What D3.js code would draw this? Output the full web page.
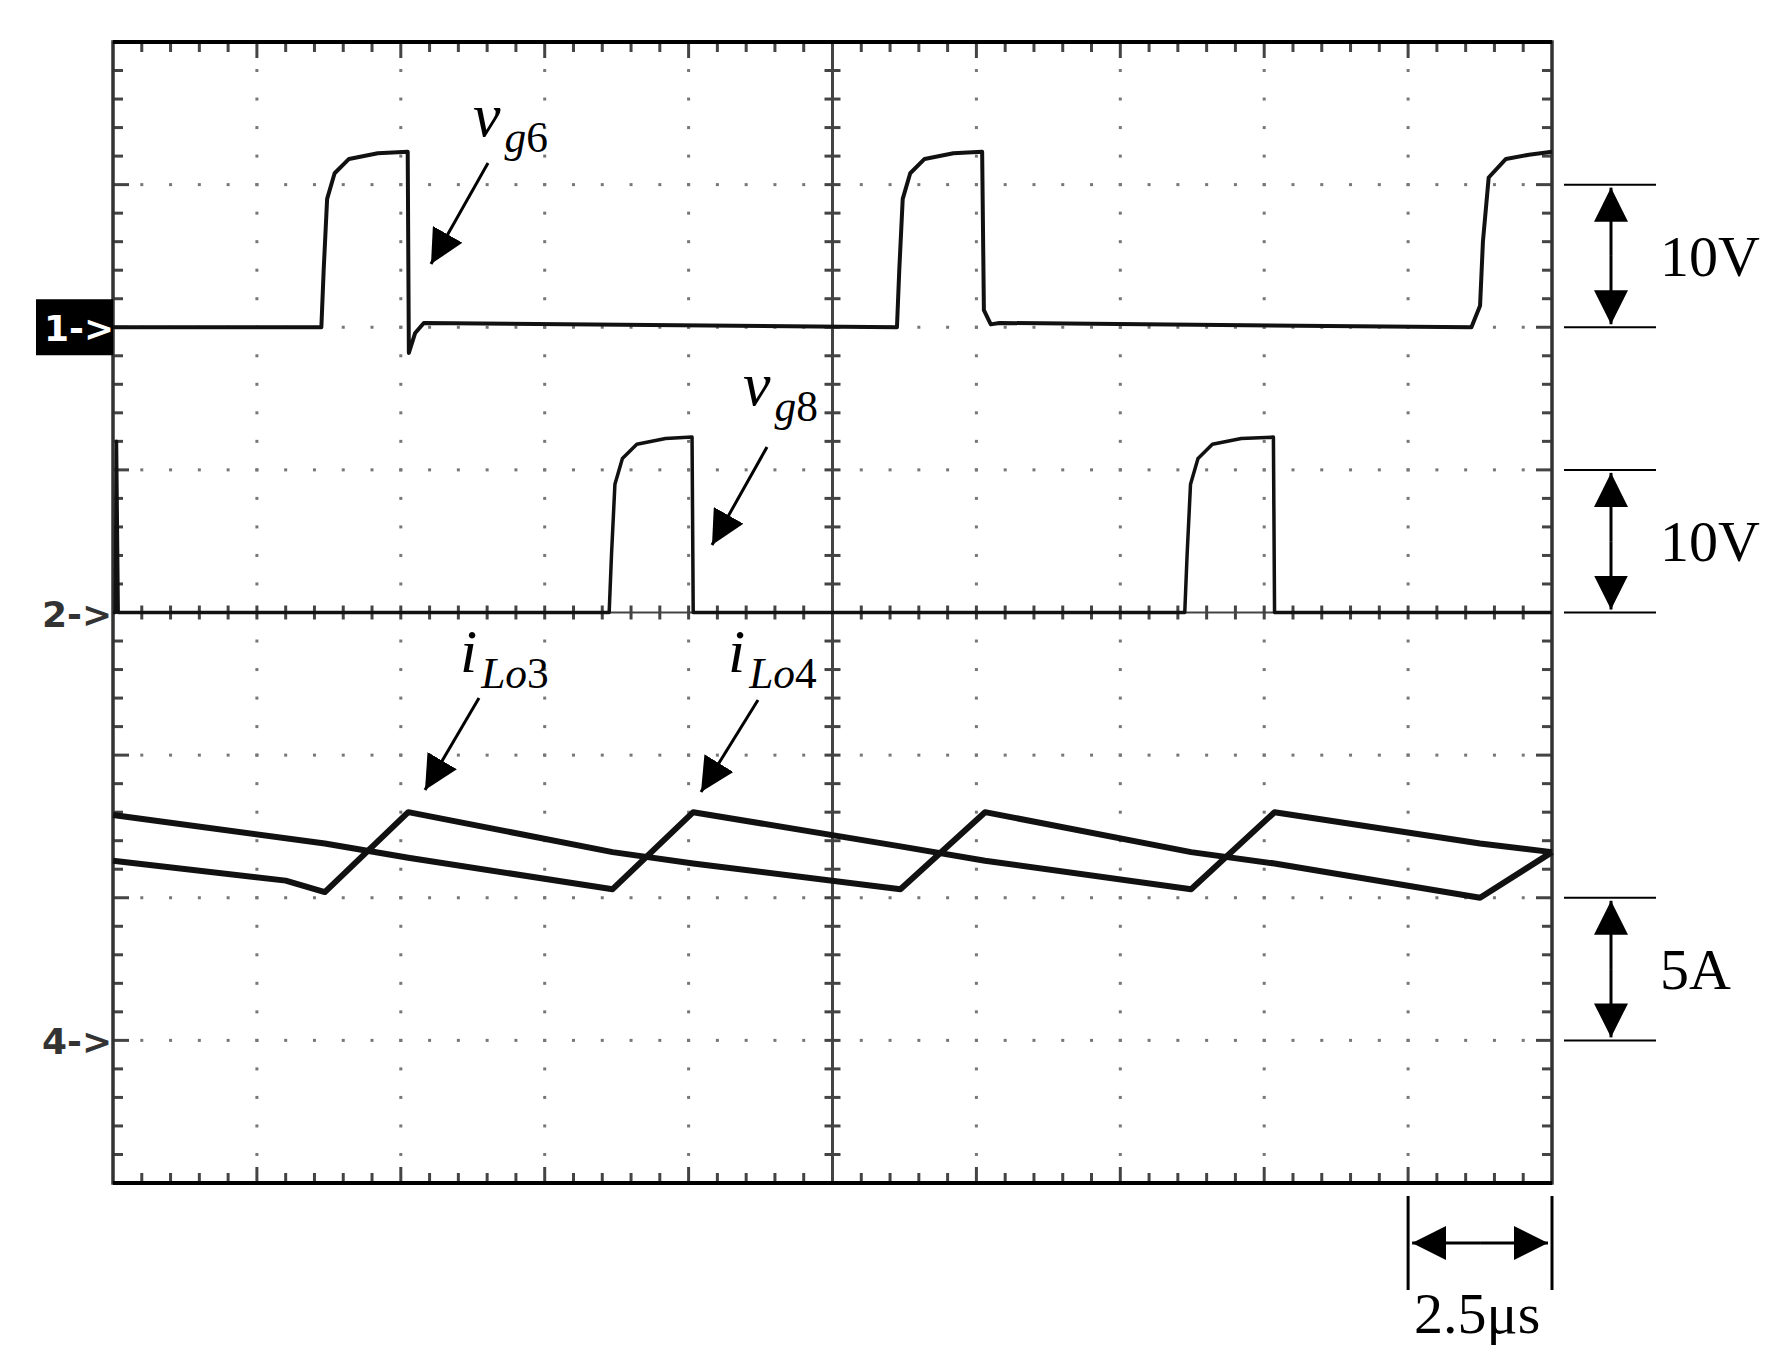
<!DOCTYPE html><html><head><meta charset="utf-8">
<script src="https://cdn.jsdelivr.net/npm/d3@7"></script>
<style>body{margin:0;background:#fff}</style></head><body>
<svg id="c" width="1788" height="1371"></svg>
<script>
// time in µs, voltage in V, current in A
const vg6 = [[0,0],[3.62,0],[3.66,4],[3.72,9],[3.85,10.8],[4.1,11.8],[4.6,12.2],[5.12,12.3],[5.14,-1.8],[5.25,-0.4],[5.4,0.3],[13.62,0],[13.66,4],[13.72,9],[13.85,10.8],[14.1,11.8],[14.6,12.2],[15.1,12.3],[15.13,1.2],[15.25,0.2],[15.4,0.3],[23.6,0],[23.75,1.5],[23.8,6],[23.9,10.5],[24.2,11.8],[24.6,12.1],[25,12.3]];
const vg8 = [[0,0],[0.04,0],[0.06,12],[0.09,0],[8.62,0],[8.66,4],[8.72,9],[8.85,10.8],[9.1,11.8],[9.6,12.2],[10.06,12.3],[10.08,0],[18.62,0],[18.66,4],[18.72,9],[18.85,10.8],[19.1,11.8],[19.6,12.2],[20.16,12.3],[20.18,0],[25,0]];
const iLo3 = [[0,6.3],[3.0,5.6],[3.68,5.2],[5.13,8.0],[8.68,6.6],[10.08,6.2],[13.68,5.3],[15.15,8.0],[18.73,6.6],[20.18,6.2],[23.75,5.0],[25,6.6]];
const iLo4 = [[0,7.9],[3.68,6.9],[5.13,6.4],[8.68,5.3],[10.08,8.0],[13.68,6.8],[15.15,6.3],[18.73,5.3],[20.18,8.0],[23.75,6.9],[25,6.6]];
const chLabels = ["1->","2->","4->"];
const scaleTexts = ["10V","10V","5A"];
const timeText = "2.5μs";

const svg = d3.select("#c");
const L=113,R=1552,T=42,B=1183, dx=(R-L)/10, dy=(B-T)/8;
const x = d3.scaleLinear([0,25],[L,R]);
const y1 = d3.scaleLinear([0,10],[T+2*dy,T+1*dy]);
const y2 = d3.scaleLinear([0,10],[T+4*dy,T+3*dy]);
const y4 = d3.scaleLinear([0,5],[T+7*dy,T+6*dy]);
const g = svg.append("g");
const col="#444";
for(let i=1;i<10;i++){ if(i==5) continue;
  for(let j=1;j<40;j++){ g.append("rect").attr("x",L+i*dx-1.5).attr("y",T+j*dy/5-1.5).attr("width",3).attr("height",3).attr("fill","#777"); } }
for(let j=1;j<8;j++){ if(j==4) continue;
  for(let i=1;i<50;i++){ g.append("rect").attr("x",L+i*dx/5-1.5).attr("y",T+j*dy-1.5).attr("width",3).attr("height",3).attr("fill","#777"); } }
g.append("line").attr("x1",L+5*dx).attr("x2",L+5*dx).attr("y1",T).attr("y2",B).attr("stroke",col).attr("stroke-width",3);
g.append("line").attr("x1",L).attr("x2",R).attr("y1",T+4*dy).attr("y2",T+4*dy).attr("stroke",col).attr("stroke-width",2);
for(let i=1;i<50;i++){ const xx=L+i*dx/5, big=i%5==0?16:10;
  g.append("line").attr("x1",xx).attr("x2",xx).attr("y1",T).attr("y2",T+big).attr("stroke",col).attr("stroke-width",3);
  g.append("line").attr("x1",xx).attr("x2",xx).attr("y1",B).attr("y2",B-big).attr("stroke",col).attr("stroke-width",3);
  g.append("line").attr("x1",xx).attr("x2",xx).attr("y1",T+4*dy-7).attr("y2",T+4*dy+7).attr("stroke",col).attr("stroke-width",3);}
for(let j=1;j<40;j++){ const yy=T+j*dy/5, big=j%5==0?16:10;
  g.append("line").attr("y1",yy).attr("y2",yy).attr("x1",L).attr("x2",L+big).attr("stroke",col).attr("stroke-width",3);
  g.append("line").attr("y1",yy).attr("y2",yy).attr("x1",R).attr("x2",R-big).attr("stroke",col).attr("stroke-width",3);
  g.append("line").attr("y1",yy).attr("y2",yy).attr("x1",L+5*dx-8).attr("x2",L+5*dx+8).attr("stroke",col).attr("stroke-width",3);}
g.append("rect").attr("x",L).attr("y",T).attr("width",R-L).attr("height",B-T).attr("fill","none").attr("stroke","#333").attr("stroke-width",3.5);
g.append("line").attr("x1",L).attr("x2",R).attr("y1",T).attr("y2",T).attr("stroke","#000").attr("stroke-width",4);
g.append("line").attr("x1",L).attr("x2",R).attr("y1",B).attr("y2",B).attr("stroke","#000").attr("stroke-width",4);
const line=(ys)=>d3.line().x(d=>x(d[0])).y(d=>ys(d[1]));
[[vg6,y1,4],[vg8,y2,3.5],[iLo3,y4,6],[iLo4,y4,6]].forEach(([d,ys,w])=>
  svg.append("path").attr("d",line(ys)(d)).attr("fill","none").attr("stroke","#111").attr("stroke-width",w).attr("stroke-linejoin","round"));
svg.append("rect").attr("x",36).attr("y",y1(0)-28).attr("width",L-36).attr("height",56).attr("fill","#000");
svg.append("text").attr("x",44).attr("y",y1(0)+14).text(chLabels[0]).attr("fill","#fff").attr("font-family","DejaVu Sans").attr("font-weight","bold").attr("font-size",36);
svg.append("text").attr("x",42).attr("y",y2(0)+14).text(chLabels[1]).attr("fill","#333").attr("font-family","DejaVu Sans").attr("font-weight","bold").attr("font-size",36);
svg.append("text").attr("x",42).attr("y",y4(0)+14).text(chLabels[2]).attr("fill","#333").attr("font-family","DejaVu Sans").attr("font-weight","bold").attr("font-size",36);
const defs=svg.append("defs");
defs.append("marker").attr("id","ah").attr("viewBox","0 0 10 10").attr("refX",10).attr("refY",5).attr("markerWidth",34).attr("markerHeight",34).attr("markerUnits","userSpaceOnUse").attr("orient","auto-start-reverse")
  .append("path").attr("d","M0,0L10,5L0,10Z");
function arrow(x1,y1_,x2,y2_){ svg.append("line").attr("x1",x1).attr("y1",y1_).attr("x2",x2).attr("y2",y2_).attr("stroke","#000").attr("stroke-width",3).attr("marker-end","url(#ah)"); }
function lab(xx,yy,main,subI,subN,fs){ const t=svg.append("text").attr("x",xx).attr("y",yy).attr("font-family","Liberation Serif").attr("font-size",fs);
  t.append("tspan").text(main).attr("font-style","italic");
  t.append("tspan").text(subI).attr("font-style","italic").attr("font-size",fs*0.7).attr("dy",fs*0.25).attr("dx",4);
  t.append("tspan").text(subN).attr("font-size",fs*0.7); }
lab(473,136,"v","g","6",62); arrow(488,163,431,264);
lab(743,405,"v","g","8",62); arrow(767,447,712,545);
lab(460,672,"i","Lo","3",62); arrow(479,698,425,790);
lab(728,672,"i","Lo","4",62); arrow(758,700,701,792);
[[y1(10),y1(0)],[y2(10),y2(0)],[y4(5),y4(0)]].forEach(([a,b],k)=>{
  [a,b].forEach(v=>svg.append("line").attr("x1",1564).attr("x2",1656).attr("y1",v).attr("y2",v).attr("stroke","#000").attr("stroke-width",2));
  arrow(1611,(a+b)/2,1611,a+3); arrow(1611,(a+b)/2,1611,b-3);
  svg.append("text").attr("x",1660).attr("y",(a+b)/2+20).text(scaleTexts[k]).attr("font-family","Liberation Serif").attr("font-size",58);
});
[x(22.5),x(25)].forEach(v=>svg.append("line").attr("x1",v).attr("x2",v).attr("y1",1196).attr("y2",1290).attr("stroke","#000").attr("stroke-width",3));
arrow((x(22.5)+x(25))/2,1243,x(22.5)+4,1243); arrow((x(22.5)+x(25))/2,1243,x(25)-4,1243);
svg.append("text").attr("x",x(22.5)+6).attr("y",1333).text(timeText).attr("font-family","Liberation Serif").attr("font-size",58);
</script></body></html>
